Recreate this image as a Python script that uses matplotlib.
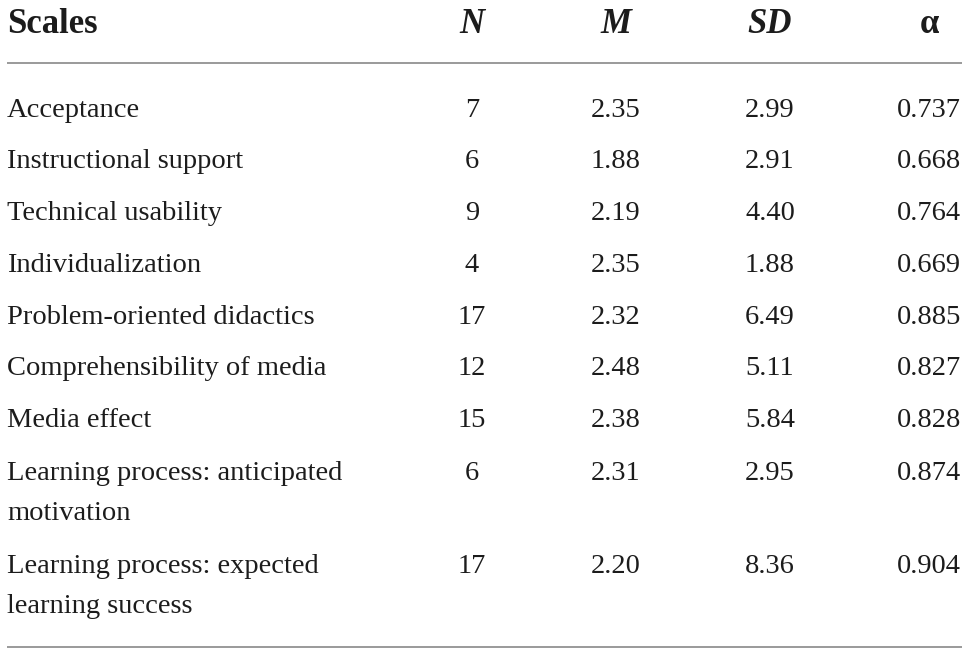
import matplotlib
matplotlib.use("Agg")
import matplotlib.pyplot as plt

scales = ["Acceptance", "Instructional support", "Technical usability", "Individualization",
          "Problem-oriented didactics", "Comprehensibility of media", "Media effect",
          "Learning process: anticipated\nmotivation", "Learning process: expected\nlearning success"]
n_items = ["7", "6", "9", "4", "17", "12", "15", "6", "17"]
means = ["2.35", "1.88", "2.19", "2.35", "2.32", "2.48", "2.38", "2.31", "2.20"]
sds = ["2.99", "2.91", "4.40", "1.88", "6.49", "5.11", "5.84", "2.95", "8.36"]
alphas = ["0.737", "0.668", "0.764", "0.669", "0.885", "0.827", "0.828", "0.874", "0.904"]
headers = ["Scales", "N", "M", "SD", "α"]

W, H = 968, 652
fig = plt.figure(figsize=(W / 100, H / 100), dpi=100)
ax = fig.add_axes([0, 0, 1, 1])
ax.set_xlim(0, W)
ax.set_ylim(H, 0)
ax.axis("off")

FONT = "Liberation Serif"
TXT = "#1c1c1c"
fs = 20.5
hfs = 25

col_x = [7, 472, 616, 770, 929]
head_base = 33
ax.text(col_x[0], head_base, headers[0], fontsize=hfs, fontweight="bold", family=FONT,
        va="baseline", ha="left", color=TXT)
for i, h in enumerate(headers[1:], start=1):
    style = "italic" if h != "α" else "normal"
    ax.text(col_x[i], head_base, h, fontsize=hfs, fontweight="bold", fontstyle=style, family=FONT,
            va="baseline", ha="center", color=TXT)

ax.plot([7, 962], [63, 63], color="#9a9a9a", lw=1.4, solid_capstyle="butt")
ax.plot([7, 962], [647, 647], color="#9a9a9a", lw=1.4, solid_capstyle="butt")

row_base = [117, 168, 220, 272, 324, 375, 427, 480, 573]
line_gap = 40
for r in range(len(scales)):
    y = row_base[r]
    lines = scales[r].split("\n")
    for k, ln in enumerate(lines):
        ax.text(col_x[0], y + k * line_gap, ln, fontsize=fs, family=FONT,
                va="baseline", ha="left", color=TXT)
    for c, vals in enumerate([n_items, means, sds, alphas], start=1):
        ax.text(col_x[c], y, vals[r], fontsize=fs, family=FONT,
                va="baseline", ha="center", color=TXT)

fig.savefig("out.png", dpi=100)
